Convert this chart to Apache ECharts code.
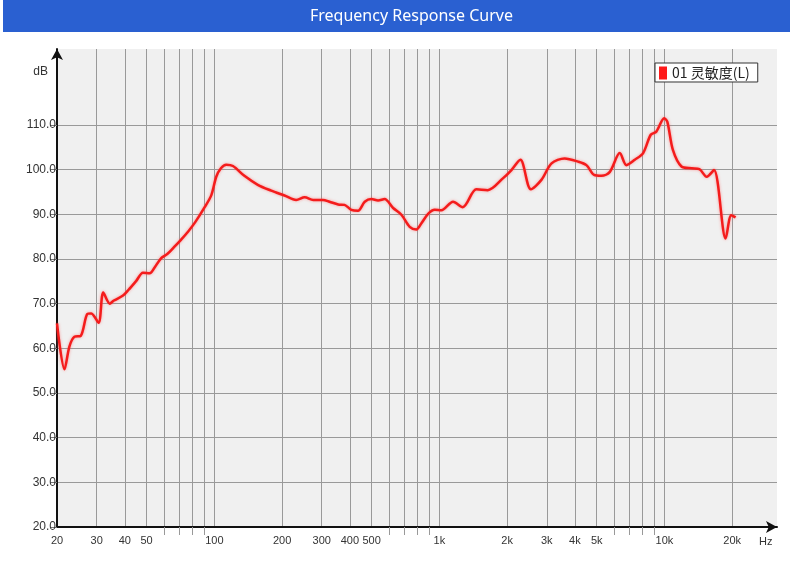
<!DOCTYPE html>
<html>
<head>
<meta charset="utf-8">
<title>Frequency Response Curve</title>
<script src="https://cdn.jsdelivr.net/npm/echarts@6/dist/echarts.min.js"></script>
<style>
  html, body { margin: 0; padding: 0; background: #fff; }
  #chart { width: 794px; height: 575px; }
</style>
</head>
<body>
<div id="chart"></div>
<script>
// frequency (Hz) and sensitivity (dB)
var freqs = [20, 21.6, 22.7, 23.9, 25.5, 27.3, 28.4, 30.6, 32.1, 34.3, 35.8, 39.3, 41.6, 45, 48.2,
  51.6, 54.3, 58.1, 61.8, 66.7, 71.4, 76.4, 82.4, 90.6, 97, 102, 107, 113, 121, 136, 156, 179,
  205, 231, 252, 275, 304, 325, 355, 379, 406, 435, 466, 499, 534, 571, 623, 678, 738, 790, 832,
  891, 953, 1020, 1150, 1270, 1460, 1640, 1920, 2090, 2290, 2550, 2840, 3150, 3600, 4130, 4500,
  4870, 5250, 5720, 6330, 6780, 7380, 8040, 8690, 9200, 9970, 10300, 10900, 11900, 13200, 14300,
  15400, 16600, 18700, 19800, 20700];
var dbValues = [65.6, 55.3, 60.4, 62.6, 62.8, 67.7, 67.8, 65.7, 72.5, 70.0, 70.7, 71.8, 73.1, 75.1, 76.9,
  76.8, 78.1, 80.2, 81.1, 82.8, 84.4, 86.1, 88.3, 91.6, 94.3, 98.4, 100.3, 101.1, 100.8, 98.6, 96.6, 95.3,
  94.2, 93.2, 93.8, 93.2, 93.2, 92.8, 92.2, 92.1, 91.0, 90.8, 92.8, 93.4, 93.1, 93.4, 91.4, 89.9, 87.2, 86.6, 88.0,
  90.1, 91.0, 90.9, 92.8, 91.6, 95.6, 95.4, 98.1, 99.9, 102.2, 95.6, 97.7, 101.4, 102.5, 101.8, 101.0,
  98.8, 98.6, 99.5, 103.7, 101.0, 102.2, 103.7, 107.8, 108.5, 111.5, 110.7, 104.4, 100.7, 100.3, 100.1,
  98.4, 99.9, 84.6, 89.8, 89.3];

// grid lines on the frequency axis, and the ones that carry a label
var gridFreqs = [20, 30, 40, 50, 60, 70, 80, 90, 100, 200, 300, 400, 500, 600, 700, 800, 900,
  1000, 2000, 3000, 4000, 5000, 6000, 7000, 8000, 9000, 10000, 20000];
var labelFreqs = [20, 30, 40, 50, 100, 200, 300, 400, 500, 1000, 2000, 3000, 4000, 5000, 10000, 20000];
var minorFreqs = gridFreqs.filter(function (f) { return labelFreqs.indexOf(f) < 0; });
var dbTicks = [20, 30, 40, 50, 60, 70, 80, 90, 100, 110];

var seriesName = '01 灵敏度(L)';

function lg(f) { return Math.log10(f); }
function fmtFreq(v) {
  var f = Math.round(Math.pow(10, v));
  return f >= 1000 ? (f / 1000) + 'k' : String(f);
}

var myChart = echarts.init(document.getElementById('chart'));
var option = {
  backgroundColor: '#fff',
  animation: false,
  textStyle: { fontFamily: 'Liberation Sans, Arial, sans-serif' },
  title: {
    text: 'Frequency Response Curve',
    left: 305,
    top: 3,
    textStyle: { color: '#fff', fontSize: 16, fontWeight: 'normal', fontFamily: 'Noto Sans' }
  },
  graphic: [{
    type: 'rect',
    z: -1,
    shape: { x: 3, y: 0, width: 787, height: 32 },
    style: { fill: '#2a60d1' }
  }],
  legend: {
    data: [seriesName],
    left: 655,
    top: 63,
    padding: [3, 8, 2, 4],
    backgroundColor: '#fff',
    borderColor: '#333',
    borderWidth: 1,
    borderRadius: 0,
    icon: 'rect',
    itemWidth: 8,
    itemHeight: 13,
    textStyle: { fontSize: 14, color: '#222', fontFamily: 'Noto Sans CJK SC' }
  },
  grid: {
    left: 57,
    right: 17,
    top: 49,
    bottom: 48,
    show: true,
    backgroundColor: '#f0f0f0',
    borderWidth: 0
  },
  xAxis: [{
    type: 'value',
    min: lg(20),
    max: 4.5,
    name: 'Hz',
    nameLocation: 'end',
    nameGap: -18,
    nameTextStyle: { fontSize: 11, color: '#333', verticalAlign: 'top', padding: [9, 0, 0, 0] },
    axisLine: {
      lineStyle: { color: '#111', width: 2 },
      symbol: ['none', 'arrow'],
      symbolSize: [9, 11]
    },
    axisTick: { show: false, customValues: gridFreqs.map(lg) },
    axisLabel: {
      customValues: labelFreqs.map(lg),
      formatter: fmtFreq,
      fontSize: 11,
      color: '#333',
      margin: 8
    },
    splitLine: { show: true, lineStyle: { color: '#999', width: 1 } }
  }, {
    type: 'value',
    min: lg(20),
    max: 4.5,
    position: 'bottom',
    axisLine: { show: false },
    axisTick: { show: true, length: 8, customValues: minorFreqs.map(lg), lineStyle: { color: '#999' } },
    axisLabel: { show: false },
    splitLine: { show: false }
  }],
  yAxis: {
    type: 'value',
    min: 20,
    max: 127,
    name: 'dB',
    nameLocation: 'end',
    nameGap: -23,
    nameTextStyle: { fontSize: 12, color: '#333', align: 'right', verticalAlign: 'middle', padding: [0, 9, 0, 0] },
    axisLine: {
      show: true,
      lineStyle: { color: '#111', width: 2 },
      symbol: ['none', 'arrow'],
      symbolSize: [9, 11]
    },
    axisTick: { show: true, length: 7, customValues: dbTicks, lineStyle: { color: '#777' } },
    axisLabel: {
      customValues: dbTicks,
      formatter: function (v) { return v.toFixed(1); },
      fontSize: 12,
      color: '#333',
      margin: 1
    },
    splitLine: { show: true, lineStyle: { color: '#999', width: 1 } }
  },
  series: [{
    name: seriesName,
    type: 'line',
    xAxisIndex: 0,
    data: freqs.map(function (f, i) { return [lg(f), dbValues[i]]; }),
    smooth: 0.3,
    showSymbol: false,
    itemStyle: { color: '#ff1a1a' },
    lineStyle: { color: '#f41c1c', width: 2.5, shadowColor: 'rgba(255,90,90,0.6)', shadowBlur: 3 }
  }]
};

myChart.setOption(option);
</script>
</body>
</html>
